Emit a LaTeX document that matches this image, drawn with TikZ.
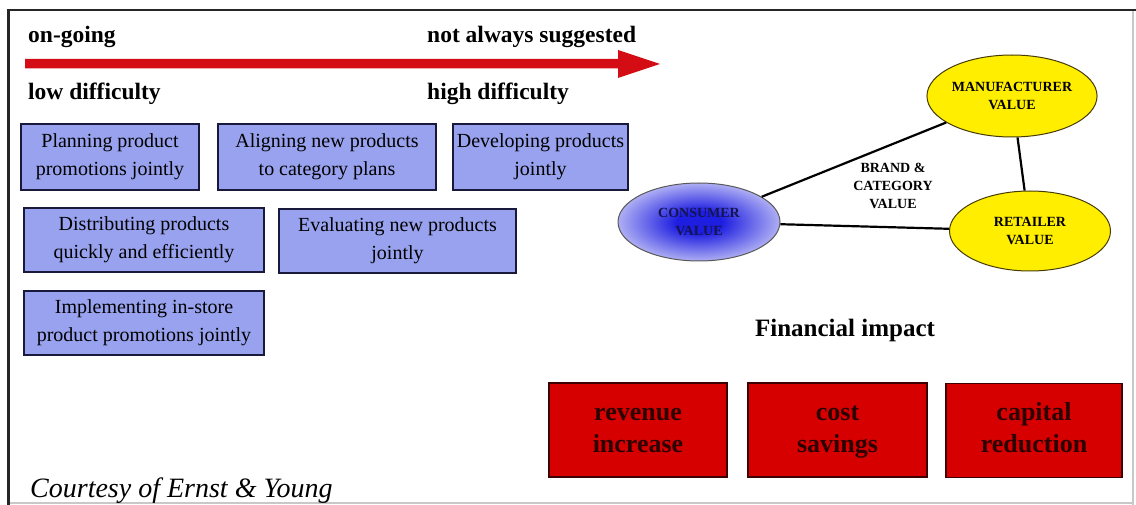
\documentclass[tikz,border=0pt]{standalone}
\usepackage{fontspec}
\setmainfont{Liberation Serif}
\usetikzlibrary{shapes.geometric}

\definecolor{boxblue}{RGB}{152,162,238}
\definecolor{boxedge}{RGB}{25,25,60}
\definecolor{impactred}{RGB}{214,0,0}
\definecolor{impactedge}{RGB}{60,0,0}
\definecolor{impacttext}{RGB}{45,0,0}
\definecolor{arrowred}{RGB}{212,12,20}
\definecolor{valueyellow}{RGB}{255,238,0}
\definecolor{valueedge}{RGB}{70,60,0}
\definecolor{deepblue}{RGB}{30,30,225}
\definecolor{paleblue}{RGB}{238,238,252}
\definecolor{navytext}{RGB}{20,20,80}
\definecolor{framegrey}{RGB}{200,200,200}

\pgfdeclareradialshading{consumershade}{\pgfpoint{0bp}{0bp}}{%
  color(0bp)=(deepblue); color(7bp)=(deepblue); color(33bp)=(paleblue); color(50bp)=(paleblue)}

\tikzset{
  x=1pt, y=-1pt,
  headtext/.style={font=\fontsize{23.5}{28}\selectfont\bfseries, anchor=base west, inner sep=0pt},
  actbox/.style={draw=boxedge, line width=1.6pt, fill=boxblue, align=center,
    font=\fontsize{20}{28}\selectfont, inner sep=0pt},
  impactbox/.style={draw=impactedge, line width=1.8pt, fill=impactred, align=center,
    text=impacttext, font=\fontsize{26}{32}\selectfont\bfseries,
    minimum height=94pt, inner sep=0pt},
  valuenode/.style={ellipse, draw=valueedge, line width=1pt, fill=valueyellow, align=center,
    font=\fontsize{14}{18}\selectfont\bfseries, inner sep=0pt},
  link/.style={line width=2.2pt, draw=black}
}

\begin{document}
\begin{tikzpicture}
\useasboundingbox (0,0) rectangle (1136,505);
\fill[white] (0,0) rectangle (1136,505);

% frame
\draw[framegrey, line width=1.2pt] (1133,10) -- (1133,505);
\draw[framegrey, line width=1.2pt] (8,503) -- (1133,503);
\draw[black!85, line width=2pt] (7,10) -- (1136,10);
\draw[black!85, line width=3pt] (8,9) -- (8,505);

% progression arrow
\fill[arrowred] (25,59) -- (618,59) -- (618,50) -- (660,64) -- (618,78) -- (618,68.5) -- (25,68.5) -- cycle;
\node[headtext] (ongoing) at (28,43) {on-going};
\node[headtext] (notalways) at (427,43) {not always suggested};
\node[headtext] (lowdiff) at (28,100) {low difficulty};
\node[headtext] (highdiff) at (427,100) {high difficulty};

% collaborative activities
\node[actbox, minimum width=178pt, minimum height=66pt] (plan) at (110,157) {Planning product\\promotions jointly};
\node[actbox, minimum width=218pt, minimum height=66pt] (align) at (327,157) {Aligning new products\\to category plans};
\node[actbox, minimum width=175pt, minimum height=66pt] (develop) at (540.5,157) {Developing products\\jointly};
\node[actbox, minimum width=240pt, minimum height=64pt] (distrib) at (144,240) {Distributing products\\quickly and efficiently};
\node[actbox, minimum width=237pt, minimum height=64pt] (evaluate) at (397.5,241) {Evaluating new products\\jointly};
\node[actbox, minimum width=240pt, minimum height=64pt] (implement) at (144,323) {Implementing in-store\\product promotions jointly};

% value triangle
\node[valuenode, minimum width=162pt, minimum height=82pt] (manu) at (1012,96) {MANUFACTURER\\VALUE};
\node[valuenode, minimum width=161pt, minimum height=80pt] (retail) at (1030,231) {RETAILER\\VALUE};
\node[ellipse, draw=black!65, line width=1pt, shading=consumershade, align=center,
  minimum width=162pt, minimum height=78pt, inner sep=0pt, text=navytext,
  font=\fontsize{14}{18}\selectfont\bfseries] (cons) at (699,222) {CONSUMER\\VALUE};
\draw[link] (cons) -- (manu);
\draw[link] (manu) -- (retail);
\draw[link] (cons) -- (retail);
\node[align=center, font=\fontsize{14}{18}\selectfont\bfseries, inner sep=0pt] (brand) at (893,186) {BRAND \&\\CATEGORY\\VALUE};

% financial impact
\node[font=\fontsize{25}{30}\selectfont\bfseries, anchor=base, inner sep=0pt] (fin) at (845,337) {Financial impact};
\node[impactbox, minimum width=178pt] (revenue) at (638,430) {\strut revenue\\\strut increase};
\node[impactbox, minimum width=179pt] (cost) at (837.5,430) {\strut cost\\\strut savings};
\node[impactbox, minimum width=176pt] (capital) at (1034,430.5) {\strut capital\\\strut reduction};

% credit line
\node[font=\fontsize{28}{32}\selectfont\itshape, anchor=base west, inner sep=0pt] (credit) at (30,497) {Courtesy of Ernst \& Young};
\end{tikzpicture}
\end{document}
